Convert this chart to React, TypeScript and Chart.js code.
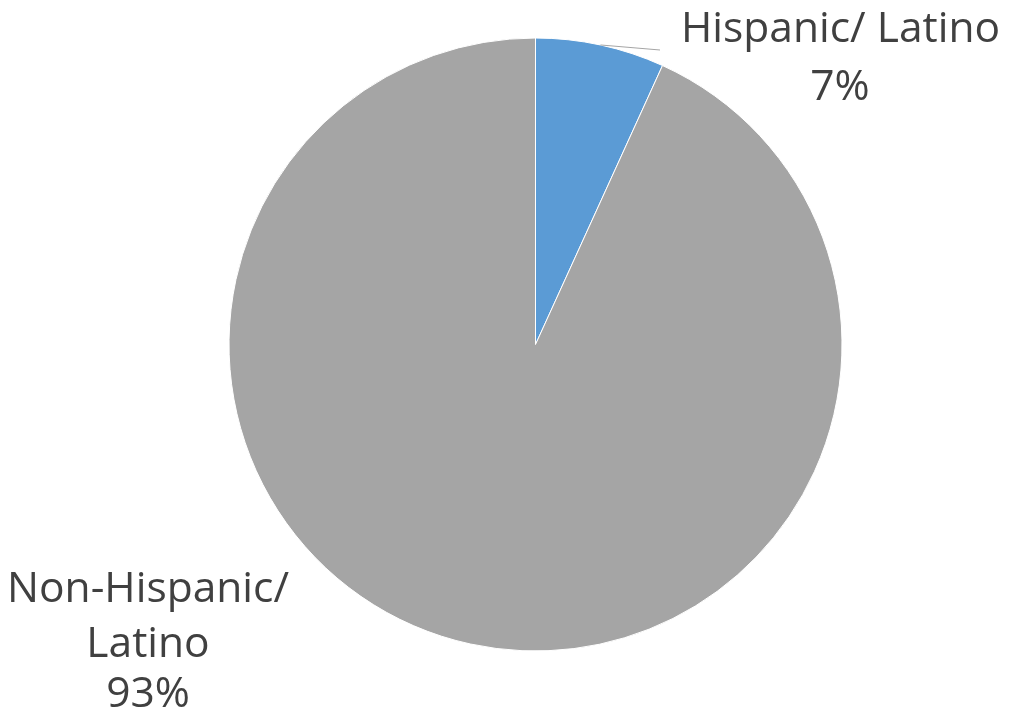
import React, { useEffect, useRef } from "react";
import { Chart, registerables } from "chart.js";

Chart.register(...registerables);

const categories = ["Hispanic/ Latino", "Non-Hispanic/ Latino"];
const shares = [6.8, 93.2];
const percentLabels = ["7%", "93%"];
const sliceColors = ["#5B9BD5", "#A5A5A5"];

const labelPlugin = {
  id: "pieLabels",
  afterDatasetsDraw(chart: any) {
    const ctx = chart.ctx;
    const meta = chart.getDatasetMeta(0);
    const arc0 = meta.data[0];
    ctx.save();
    const mid = (arc0.startAngle + arc0.endAngle) / 2;
    const sx = arc0.x + Math.cos(mid) * arc0.outerRadius;
    const sy = arc0.y + Math.sin(mid) * arc0.outerRadius;
    ctx.strokeStyle = "#A5A5A5";
    ctx.lineWidth = 1;
    ctx.beginPath();
    ctx.moveTo(sx, sy);
    ctx.lineTo(660, 50);
    ctx.stroke();

    ctx.fillStyle = "#404040";
    ctx.font = '42.5px "Open Sans"';
    ctx.textAlign = "center";
    ctx.textBaseline = "alphabetic";
    ctx.fillText(categories[0], 840.5, 42);
    ctx.fillText(percentLabels[0], 840, 100);

    const parts = categories[1].split(" ");
    ctx.fillText(parts[0], 148, 602);
    ctx.fillText(parts[1], 148, 657);
    ctx.fillText(percentLabels[1], 148, 707);
    ctx.restore();
  },
};

export default function App() {
  const ref = useRef<HTMLCanvasElement>(null);
  useEffect(() => {
    document.body.style.margin = "0";
    const chart = new Chart(ref.current!, {
      type: "pie",
      data: {
        labels: categories,
        datasets: [
          {
            data: shares,
            backgroundColor: sliceColors,
            borderColor: "#ffffff",
            borderWidth: 1,
          },
        ],
      },
      options: {
        responsive: false,
        animation: false,
        layout: { padding: { top: 37.5, bottom: 62.5, left: 228.5, right: 169.5 } },
        plugins: { legend: { display: false }, tooltip: { enabled: false } },
      },
      plugins: [labelPlugin],
    });
    return () => chart.destroy();
  }, []);
  return (
    <div style={{ width: 1012, height: 714, background: "#fff" }}>
      <canvas ref={ref} width={1012} height={714} />
    </div>
  );
}
